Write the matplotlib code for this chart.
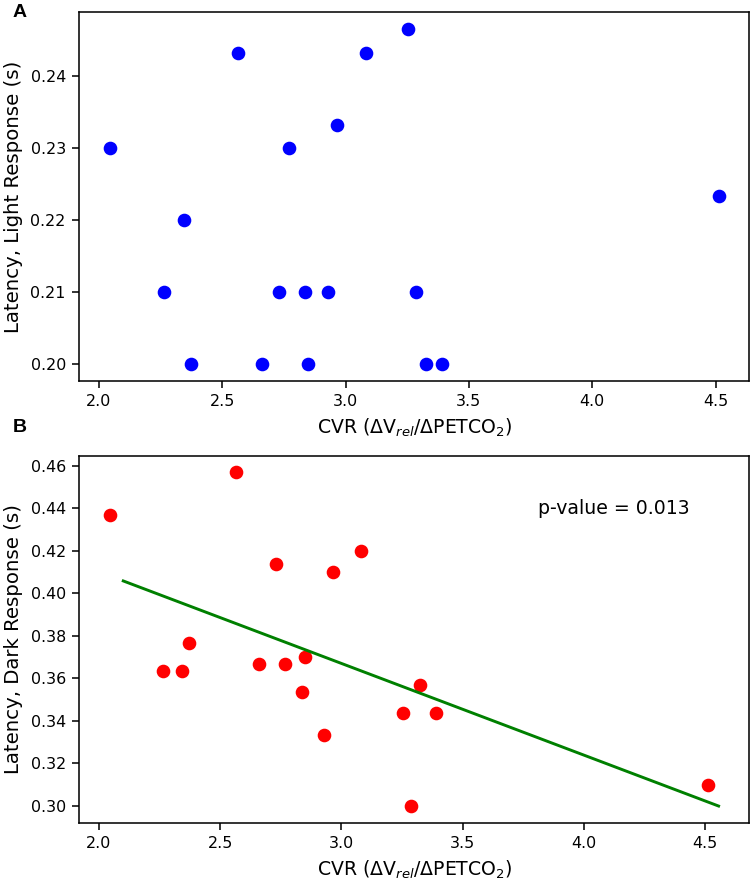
import numpy as np
from matplotlib import pyplot as plt

# CVR per subject (same subjects in both panels)
cvr = [2.045, 2.265, 2.344, 2.372, 2.565, 2.660, 2.730, 2.769, 2.836, 2.849,
       2.929, 2.965, 3.081, 3.252, 3.286, 3.325, 3.390, 4.512]
latency_light = [0.230, 0.210, 0.220, 0.200, 0.2433, 0.200, 0.210, 0.230, 0.210, 0.200,
                 0.210, 0.2333, 0.2433, 0.2466, 0.210, 0.200, 0.200, 0.2233]
latency_dark = [0.4367, 0.3633, 0.3633, 0.3766, 0.457, 0.3666, 0.4136, 0.3666, 0.3533, 0.3701,
                0.3332, 0.4101, 0.420, 0.3435, 0.300, 0.3568, 0.3435, 0.3099]
fit_range = [2.1, 4.555]
p_value = 0.013

xlab = r"CVR ($\Delta$V$_{rel}$/$\Delta$PETCO$_2$)"

plt.rcParams["xtick.labelsize"] = 8.2
plt.rcParams["ytick.labelsize"] = 8.2

fig = plt.figure(figsize=(754 / 140, 882 / 140), dpi=140)
ax1 = fig.add_axes([0.1054, 0.5684, 0.888, 0.4177])
ax2 = fig.add_axes([0.1054, 0.0672, 0.888, 0.4161])

ax1.scatter(cvr, latency_light, color="blue")
ax1.set_xlabel(xlab, fontsize=9.7)
ax1.set_ylabel("Latency, Light Response (s)", fontsize=10.2)
ax1.set_yticks([0.20, 0.21, 0.22, 0.23, 0.24])

ax2.scatter(cvr, latency_dark, color="red")
slope, icpt = np.polyfit(cvr, latency_dark, 1)
xf = np.array(fit_range)
ax2.plot(xf, slope * xf + icpt, color="green")
ax2.text(3.81, 0.44, "p-value = %.3f" % p_value, va="center", fontsize=9.7)
ax2.set_xlabel(xlab, fontsize=9.7)
ax2.set_ylabel("Latency, Dark Response (s)", fontsize=10.2)

fig.text(0.017, 0.986, "A", family="Liberation Sans", fontweight="bold", fontsize=10, va="center")
fig.text(0.017, 0.515, "B", family="Liberation Sans", fontweight="bold", fontsize=10, va="center")

fig.savefig("out.png", dpi=140)
